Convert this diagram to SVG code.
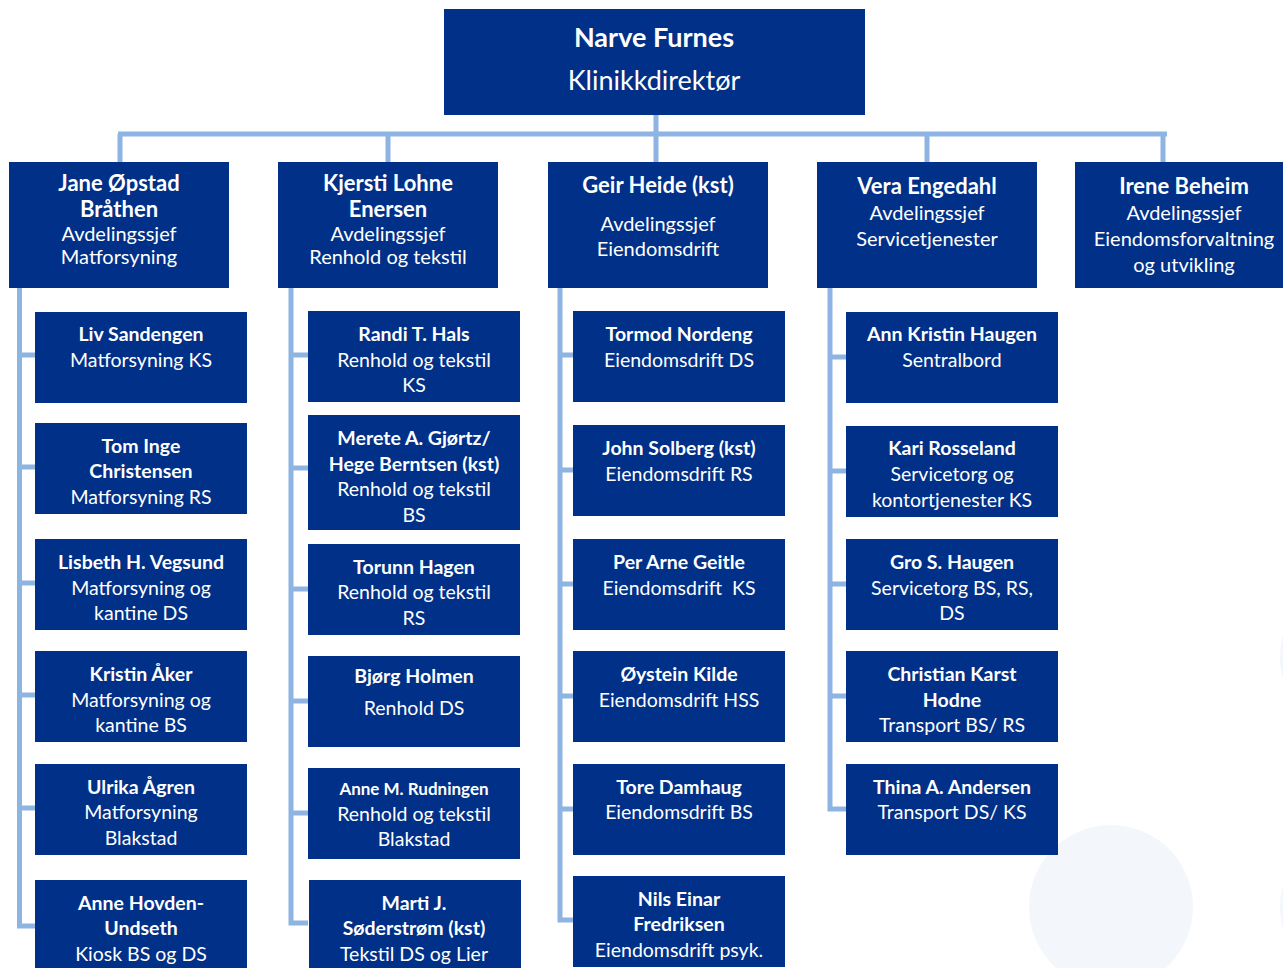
<svg xmlns="http://www.w3.org/2000/svg" width="1283" height="968" viewBox="0 0 1283 968">
<style>
.box{fill:#003087}
.t{fill:#ffffff;font-family:Lato,"Open Sans","Noto Sans",sans-serif;text-anchor:middle}
.n{font-weight:bold;font-size:19.5px}
.r{font-size:19.5px}
.hn{font-weight:bold;font-size:22px}
.hr{font-size:20px}
.c{stroke:#8db4e2;stroke-width:5;fill:none}
.bg{fill:#f3f7fc}
</style>
<rect width="1283" height="968" fill="#ffffff"/>
<g id="background">
<circle class="bg" cx="1111" cy="907" r="82"/>
<circle class="bg" cx="1362" cy="657" r="82"/>
<circle class="bg" cx="1362" cy="907" r="82"/>
</g>
<g id="connectors">
<path class="c" d="M656 115V162M118 134H1167M120 134V162M388 134V162M927 134V162M1163 134V162"/>
<path class="c" d="M19.5 288V926H35M19.5 355H35M19.5 467H35M19.5 583H35M19.5 695H35M19.5 808H35"/>
<path class="c" d="M291 288V923H308M291 355H308M291 468H308M291 589H308M291 701H308M291 813H308"/>
<path class="c" d="M560 288V920H573M560 355H573M560 470H573M560 584H573M560 696H573M560 809H573"/>
<path class="c" d="M830 288V809H846M830 357H846M830 471H846M830 584H846M830 696H846"/>
</g>
<g id="n-top"><rect class="box" x="444" y="9" width="421" height="106"/>
<text class="t" x="654" y="47" font-weight="bold" font-size="27">Narve Furnes</text>
<text class="t" x="654" y="90" font-size="27">Klinikkdirektør</text></g>

<g id="h1"><rect class="box" x="9" y="162" width="220" height="126"/>
<text class="t hn" x="119" y="191">Jane Øpstad</text><text class="t hn" x="119" y="217">Bråthen</text>
<text class="t hr" x="119" y="241">Avdelingssjef</text><text class="t hr" x="119" y="264">Matforsyning</text></g>
<g id="h2"><rect class="box" x="278" y="162" width="220" height="126"/>
<text class="t hn" x="388" y="191">Kjersti Lohne</text><text class="t hn" x="388" y="217">Enersen</text>
<text class="t hr" x="388" y="241">Avdelingssjef</text><text class="t hr" x="388" y="264">Renhold og tekstil</text></g>
<g id="h3"><rect class="box" x="548" y="162" width="220" height="126"/>
<text class="t hn" x="658" y="193">Geir Heide (kst)</text>
<text class="t hr" x="658" y="231">Avdelingssjef</text><text class="t hr" x="658" y="256">Eiendomsdrift</text></g>
<g id="h4"><rect class="box" x="817" y="162" width="220" height="126"/>
<text class="t hn" x="927" y="194">Vera Engedahl</text>
<text class="t hr" x="927" y="220">Avdelingssjef</text><text class="t hr" x="927" y="246">Servicetjenester</text></g>
<g id="h5"><rect class="box" x="1075" y="162" width="220" height="126"/>
<text class="t hn" x="1184" y="194">Irene Beheim</text>
<text class="t hr" x="1184" y="220">Avdelingssjef</text><text class="t hr" x="1184" y="246">Eiendomsforvaltning</text><text class="t hr" x="1184" y="272">og utvikling</text></g>

<g id="c1-1"><rect class="box" x="35" y="312" width="212" height="91"/>
<text class="t n" x="141" y="341">Liv Sandengen</text><text class="t r" x="141" y="367">Matforsyning KS</text></g>
<g id="c1-2"><rect class="box" x="35" y="423" width="212" height="91"/>
<text class="t n" x="141" y="453">Tom Inge</text><text class="t n" x="141" y="478">Christensen</text><text class="t r" x="141" y="504">Matforsyning RS</text></g>
<g id="c1-3"><rect class="box" x="35" y="539" width="212" height="91"/>
<text class="t n" x="141" y="569">Lisbeth H. Vegsund</text><text class="t r" x="141" y="595">Matforsyning og</text><text class="t r" x="141" y="620">kantine DS</text></g>
<g id="c1-4"><rect class="box" x="35" y="651" width="212" height="91"/>
<text class="t n" x="141" y="681">Kristin Åker</text><text class="t r" x="141" y="707">Matforsyning og</text><text class="t r" x="141" y="732">kantine BS</text></g>
<g id="c1-5"><rect class="box" x="35" y="764" width="212" height="91"/>
<text class="t n" x="141" y="794">Ulrika Ågren</text><text class="t r" x="141" y="819">Matforsyning</text><text class="t r" x="141" y="845">Blakstad</text></g>
<g id="c1-6"><rect class="box" x="35" y="880" width="212" height="91"/>
<text class="t n" x="141" y="910">Anne Hovden-</text><text class="t n" x="141" y="935">Undseth</text><text class="t r" x="141" y="961">Kiosk BS og DS</text></g>

<g id="c2-1"><rect class="box" x="308" y="311" width="212" height="91"/>
<text class="t n" x="414" y="341">Randi T. Hals</text><text class="t r" x="414" y="367">Renhold og tekstil</text><text class="t r" x="414" y="392">KS</text></g>
<g id="c2-2"><rect class="box" x="308" y="415" width="212" height="115"/>
<text class="t n" x="414" y="445">Merete A. Gjørtz/</text><text class="t n" x="414" y="471">Hege Berntsen (kst)</text><text class="t r" x="414" y="496">Renhold og tekstil</text><text class="t r" x="414" y="522">BS</text></g>
<g id="c2-3"><rect class="box" x="308" y="544" width="212" height="91"/>
<text class="t n" x="414" y="574">Torunn Hagen</text><text class="t r" x="414" y="599">Renhold og tekstil</text><text class="t r" x="414" y="625">RS</text></g>
<g id="c2-4"><rect class="box" x="308" y="656" width="212" height="91"/>
<text class="t n" x="414" y="683">Bjørg Holmen</text><text class="t r" x="414" y="715">Renhold DS</text></g>
<g id="c2-5"><rect class="box" x="308" y="768" width="212" height="91"/>
<text class="t" x="414" y="795" font-weight="bold" font-size="17">Anne M. Rudningen</text><text class="t r" x="414" y="821">Renhold og tekstil</text><text class="t r" x="414" y="846">Blakstad</text></g>
<g id="c2-6"><rect class="box" x="309" y="880" width="212" height="91"/>
<text class="t n" x="414" y="910">Marti J.</text><text class="t n" x="414" y="935">Søderstrøm (kst)</text><text class="t r" x="414" y="961">Tekstil DS og Lier</text></g>

<g id="c3-1"><rect class="box" x="573" y="311" width="212" height="91"/>
<text class="t n" x="679" y="341">Tormod Nordeng</text><text class="t r" x="679" y="367">Eiendomsdrift DS</text></g>
<g id="c3-2"><rect class="box" x="573" y="425" width="212" height="91"/>
<text class="t n" x="679" y="455">John Solberg (kst)</text><text class="t r" x="679" y="481">Eiendomsdrift RS</text></g>
<g id="c3-3"><rect class="box" x="573" y="539" width="212" height="91"/>
<text class="t n" x="679" y="569">Per Arne Geitle</text><text class="t r" x="679" y="595" xml:space="preserve">Eiendomsdrift  KS</text></g>
<g id="c3-4"><rect class="box" x="573" y="651" width="212" height="91"/>
<text class="t n" x="679" y="681">Øystein Kilde</text><text class="t r" x="679" y="707">Eiendomsdrift HSS</text></g>
<g id="c3-5"><rect class="box" x="573" y="764" width="212" height="91"/>
<text class="t n" x="679" y="794">Tore Damhaug</text><text class="t r" x="679" y="819">Eiendomsdrift BS</text></g>
<g id="c3-6"><rect class="box" x="573" y="876" width="212" height="91"/>
<text class="t n" x="679" y="906">Nils Einar</text><text class="t n" x="679" y="931">Fredriksen</text><text class="t r" x="679" y="957">Eiendomsdrift psyk.</text></g>

<g id="c4-1"><rect class="box" x="846" y="312" width="212" height="91"/>
<text class="t n" x="952" y="341">Ann Kristin Haugen</text><text class="t r" x="952" y="367">Sentralbord</text></g>
<g id="c4-2"><rect class="box" x="846" y="426" width="212" height="91"/>
<text class="t n" x="952" y="455">Kari Rosseland</text><text class="t r" x="952" y="481">Servicetorg og</text><text class="t r" x="952" y="507">kontortjenester KS</text></g>
<g id="c4-3"><rect class="box" x="846" y="539" width="212" height="91"/>
<text class="t n" x="952" y="569">Gro S. Haugen</text><text class="t r" x="952" y="595">Servicetorg BS, RS,</text><text class="t r" x="952" y="620">DS</text></g>
<g id="c4-4"><rect class="box" x="846" y="651" width="212" height="91"/>
<text class="t n" x="952" y="681">Christian Karst</text><text class="t n" x="952" y="707">Hodne</text><text class="t r" x="952" y="732">Transport BS/ RS</text></g>
<g id="c4-5"><rect class="box" x="846" y="764" width="212" height="91"/>
<text class="t n" x="952" y="794">Thina A. Andersen</text><text class="t r" x="952" y="819">Transport DS/ KS</text></g>
</svg>
